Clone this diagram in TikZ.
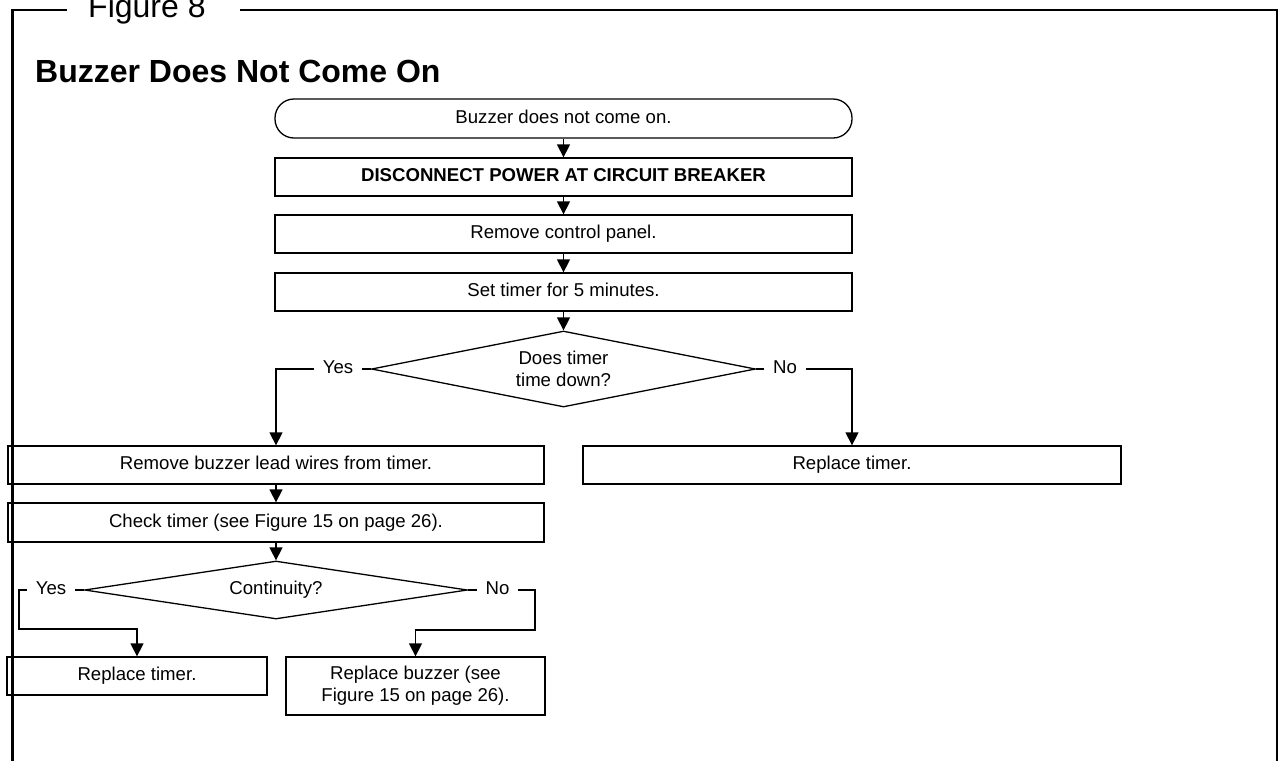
\documentclass[tikz,border=0pt]{standalone}
\usepackage{fontspec}
\setmainfont{Liberation Sans}
\usetikzlibrary{arrows.meta,shapes.geometric}
\newcommand{\bodySize}[0]{\fontsize{18.6pt}{21.7pt}\selectfont}
\newcommand{\headSize}[0]{\fontsize{32pt}{38pt}\selectfont}

\begin{document}
\begin{tikzpicture}[x=1pt,y=-1pt]
  \tikzset{every node/.style={font=\bodySize,align=center},
    oneline/.style={text height=13.4pt,text depth=3.9pt},
    stepbox/.style={draw,line width=1.3pt,inner sep=0pt,minimum height=38pt,oneline},
    startbox/.style={stepbox,rounded corners=19pt},
    decide/.style={draw,diamond,line width=1.3pt,inner sep=0pt,aspect=5},
    answer/.style={inner xsep=8.5pt,inner ysep=0pt,oneline},
    wire/.style={line width=1.3pt},
    flow/.style={wire,-{Triangle[length=13pt,width=13pt]}}}
  \useasboundingbox (0,0) rectangle (1281,761);
  \draw[line width=2.4pt] (12.5,761) -- (12.5,10) -- (67,10);
  \draw[line width=2.4pt] (240,10) -- (1277,10) -- (1277,761);
  \node[anchor=base west,inner sep=0pt,font=\headSize] (fig) at (88,17) {Figure 8};
  \node[anchor=base west,inner sep=0pt,font=\headSize\bfseries] (title) at (35,82) {Buzzer Does Not Come On};
  \node[startbox,minimum width=577pt,minimum height=39pt] (start) at (563.5,118.5) {Buzzer does not come on.};
  \node[stepbox,minimum width=577pt,font=\bodySize\bfseries] (power) at (563.5,177) {DISCONNECT POWER AT CIRCUIT BREAKER};
  \node[stepbox,minimum width=577pt] (panel) at (563.5,234) {Remove control panel.};
  \node[stepbox,minimum width=577pt] (timer) at (563.5,292) {Set timer for 5 minutes.};
  \node[decide,minimum width=384pt,minimum height=76pt] (down) at (563.5,369) {Does timer\\time down?};
  \node[stepbox,minimum width=536pt] (leads) at (276,465) {Remove buzzer lead wires from timer.};
  \node[stepbox,minimum width=538pt] (newtimer) at (852,465) {Replace timer.};
  \node[stepbox,minimum width=536pt,minimum height=39pt] (check) at (276,522.5) {Check timer (see Figure 15 on page 26).};
  \node[decide,oneline,minimum width=383pt,minimum height=58pt] (cont) at (276,590) {Continuity?};
  \node[stepbox,minimum width=260pt] (swaptimer) at (137,676) {Replace timer.};
  \node[stepbox,text height={},text depth={},minimum width=259pt,minimum height=58pt] (swapbuzz) at (415.5,686) {Replace buzzer (see\\Figure 15 on page 26).};
  \node[answer] (yes1) at (338,369) {Yes};
  \node[answer] (no1) at (785,369) {No};
  \node[answer] (yes2) at (51,590) {Yes};
  \node[answer] (no2) at (497.5,590) {No};
  \draw[flow] (start) -- (power);
  \draw[flow] (power) -- (panel);
  \draw[flow] (panel) -- (timer);
  \draw[flow] (timer) -- (down);
  \draw[wire] (down.west) -- (yes1.east);
  \draw[flow] (yes1.west) -| (leads.north);
  \draw[wire] (down.east) -- (no1.west);
  \draw[flow] (no1.east) -| (newtimer.north);
  \draw[flow] (leads) -- (check);
  \draw[flow] (check) -- (cont);
  \draw[wire] (cont.west) -- (yes2.east);
  \draw[flow] (yes2.west) -| ++(-8,39) -| (swaptimer.north);
  \draw[wire] (cont.east) -- (no2.west);
  \draw[flow] (no2.east) -| ++(17,40) -| (swapbuzz.north);
\end{tikzpicture}
\end{document}
